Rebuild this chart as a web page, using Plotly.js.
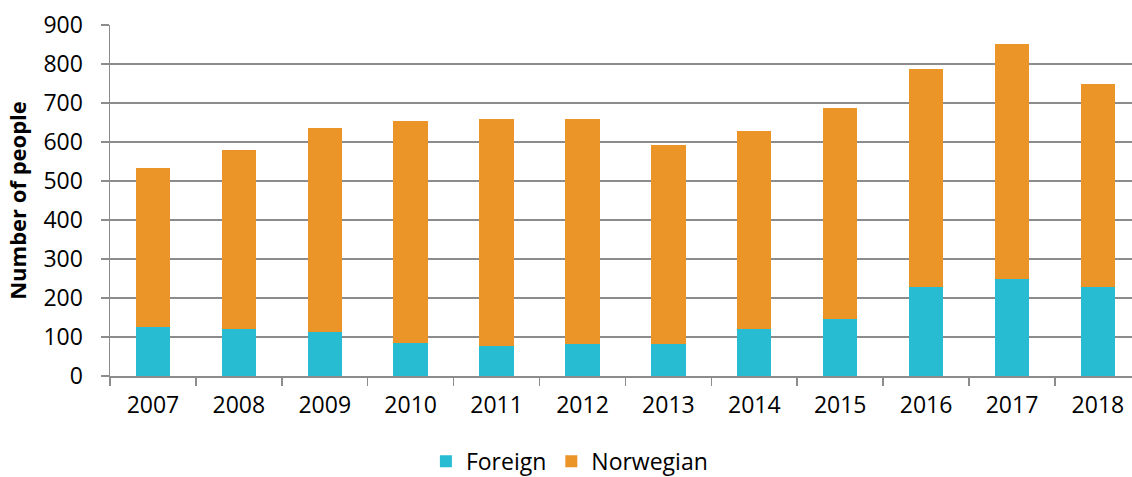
<!DOCTYPE html>
<html>
<head>
<meta charset="utf-8">
<script src="https://cdn.plot.ly/plotly-3.0.1.min.js"></script>
<style>html,body{margin:0;padding:0;background:#fff;}#chart{width:1132px;height:477px;}</style>
</head>
<body>
<div id="chart"></div>
<script>
const years = ["2007","2008","2009","2010","2011","2012","2013","2014","2015","2016","2017","2018"];
const foreign = [126, 121, 114, 85, 78, 83, 82, 121, 145, 227, 250, 227];
const norwegian = [407, 459, 523, 568, 582, 575, 510, 507, 542, 559, 602, 523];
const yTicks = [0, 100, 200, 300, 400, 500, 600, 700, 800, 900];

const font = "'Open Sans', 'Noto Sans', sans-serif";
const traces = [
  {type: "bar", name: "Foreign", x: years, y: foreign, marker: {color: "#27BCD1"}, width: 0.4},
  {type: "bar", name: "Norwegian", x: years, y: norwegian, marker: {color: "#EB9427"}, width: 0.4}
];
const layout = {
  width: 1132, height: 477,
  barmode: "stack",
  paper_bgcolor: "#fff", plot_bgcolor: "#fff",
  margin: {l: 110, r: 0, t: 25, b: 101},
  font: {family: font, size: 23, color: "#000"},
  showlegend: true,
  legend: {orientation: "h", xref: "container", yref: "container", x: 0.503, xanchor: "center", y: 0.033, yanchor: "middle", font: {size: 23}, traceorder: "normal"},
  xaxis: {
    type: "category", range: [-0.5, 11.397], tickson: "boundaries",
    ticks: "outside", ticklen: 8, tickcolor: "#8c8c8c", tickwidth: 1.5,
    showline: true, linecolor: "#8c8c8c", linewidth: 1.5,
    showgrid: false, tickfont: {size: 23}, ticklabelstandoff: 8
  },
  yaxis: {
    range: [0, 900], tickvals: yTicks, ticktext: yTicks.map(String),
    ticks: "outside", ticklen: 8, tickcolor: "#8c8c8c", tickwidth: 1.5,
    showline: true, linecolor: "#8c8c8c", linewidth: 1.5,
    showgrid: true, gridcolor: "#8c8c8c", gridwidth: 1.5, zeroline: false,
    tickfont: {size: 23}, ticklabelstandoff: 13,
    title: {text: "Number of people", font: {size: 22, family: font, weight: "bold"}, standoff: 10}
  }
};
Plotly.newPlot("chart", traces, layout, {displayModeBar: false, staticPlot: true});
</script>
</body>
</html>
